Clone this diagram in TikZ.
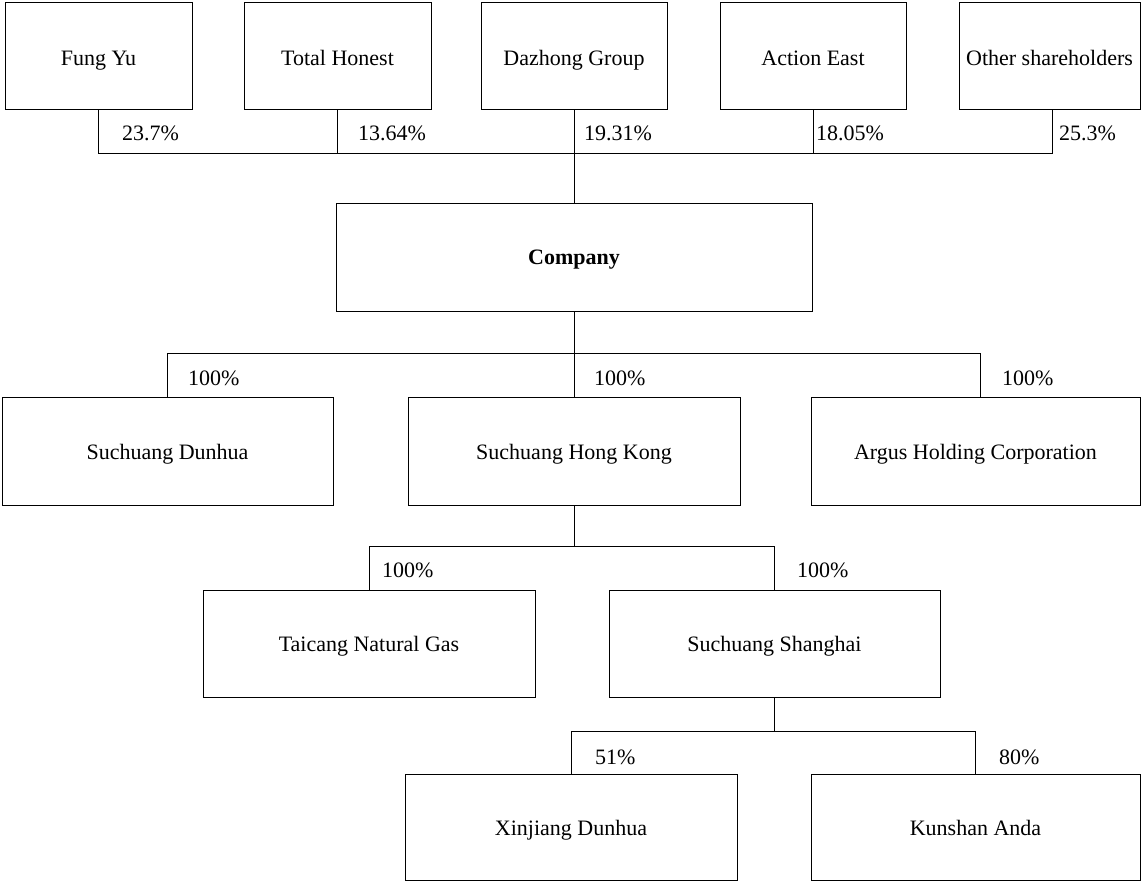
\documentclass[tikz,border=0pt]{standalone}
\usepackage{fontspec}
\setmainfont{Liberation Serif}
\begin{document}
\begin{tikzpicture}[x=1pt,y=-1pt,
  box/.style={draw,line width=0.9pt,inner sep=0pt,align=center,font=\fontsize{22}{26}\selectfont,text height=20pt,text depth=4pt},
  topbox/.style={box,text height=25pt,text depth=4pt},
  pct/.style={anchor=west,inner sep=0pt,font=\fontsize{22}{26}\selectfont},
  conn/.style={line width=0.9pt}]
\useasboundingbox (0,0) rectangle (1142,882);
% shareholders
\node[topbox,minimum width=187pt,minimum height=107pt] (fy) at (98.5,55.5) {Fung Yu};
\node[topbox,minimum width=187pt,minimum height=107pt] (th) at (337.5,55.5) {Total Honest};
\node[topbox,minimum width=186pt,minimum height=107pt] (dz) at (574,55.5) {Dazhong Group};
\node[topbox,minimum width=186pt,minimum height=107pt] (ae) at (813,55.5) {Action East};
\node[topbox,minimum width=181pt,minimum height=107pt] (ot) at (1049.5,55.5) {Other shareholders};
% company
\node[box,minimum width=476pt,minimum height=108pt] (co) at (574,257) {\textbf{Company}};
% row 3
\node[box,minimum width=331pt,minimum height=108pt] (dh) at (167.5,451) {Suchuang Dunhua};
\node[box,minimum width=332pt,minimum height=108pt] (hk) at (574,451) {Suchuang Hong Kong};
\node[box,minimum width=329pt,minimum height=108pt] (ar) at (975.5,451) {Argus Holding Corporation};
% row 4
\node[box,minimum width=332pt,minimum height=107pt] (tc) at (369,643.5) {Taicang Natural Gas};
\node[box,minimum width=331pt,minimum height=107pt] (sh) at (774.5,643.5) {Suchuang Shanghai};
% row 5
\node[box,minimum width=332pt,minimum height=106pt] (xj) at (571,827) {Xinjiang Dunhua};
\node[box,minimum width=329pt,minimum height=106pt] (ks) at (975.5,827) {Kunshan Anda};
% bus coordinates
\coordinate (b1) at (0,153);
\coordinate (b2) at (0,353);
\coordinate (b3) at (0,546);
\coordinate (b4) at (0,731);
\coordinate (arin) at ([xshift=4.5pt]ar.north);
\coordinate (otin) at ([xshift=2.5pt]ot.south);
% connectors
\draw[conn] (fy.south) |- (otin |- b1) -- (otin);
\draw[conn] (th.south) -- (th.south |- b1);
\draw[conn] (ae.south) -- (ae.south |- b1);
\draw[conn] (dz.south) -- (co.north);
\draw[conn] (co.south) -- (co.south |- b2);
\draw[conn] (dh.north) |- (arin |- b2) -- (arin);
\draw[conn] (hk.north) -- (hk.north |- b2);
\draw[conn] (hk.south) -- (hk.south |- b3);
\draw[conn] (tc.north) |- (sh.north |- b3) -- (sh.north);
\draw[conn] (sh.south) -- (sh.south |- b4);
\draw[conn] (xj.north) |- (ks.north |- b4) -- (ks.north);
% labels
\node[pct] (p1) at (122,133) {23.7\%};
\node[pct] (p2) at (358,133) {13.64\%};
\node[pct] (p3) at (584,133) {19.31\%};
\node[pct] (p4) at (816,133) {18.05\%};
\node[pct] (p5) at (1059,133) {25.3\%};
\node[pct] (p6) at (188,378) {100\%};
\node[pct] (p7) at (594,378) {100\%};
\node[pct] (p8) at (1002,378) {100\%};
\node[pct] (p9) at (382,570) {100\%};
\node[pct] (p10) at (797,570) {100\%};
\node[pct] (p11) at (595,757) {51\%};
\node[pct] (p12) at (999,757) {80\%};
\end{tikzpicture}
\end{document}
